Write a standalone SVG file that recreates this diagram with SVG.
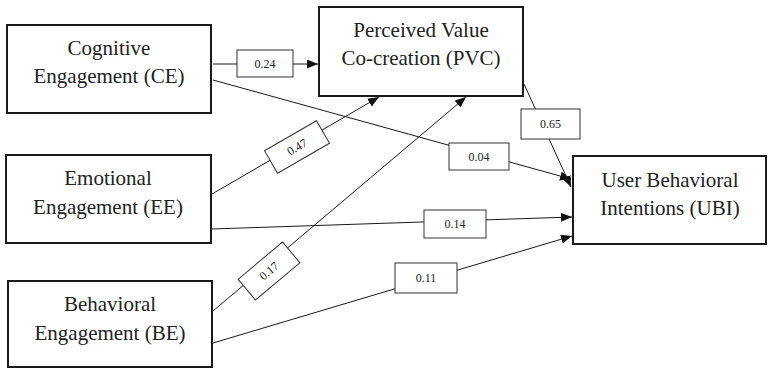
<svg xmlns="http://www.w3.org/2000/svg" width="770" height="369" viewBox="0 0 770 369">
<style>
.node rect{fill:#fff;stroke:#1a1a1a;stroke-width:2}
.node text{font-size:21px;fill:#222;text-anchor:middle}
.conn line{stroke:#1a1a1a;stroke-width:1}
.lbl rect{fill:#fff;stroke:#333;stroke-width:1}
.lbl text{font-size:12px;fill:#222;text-anchor:middle;dominant-baseline:central}
</style>
<defs>
<marker id="arr" markerUnits="userSpaceOnUse" markerWidth="12" markerHeight="10" refX="11" refY="4.5" orient="auto">
<path d="M0,0 L11,4.5 L0,9 z" fill="#111"/>
</marker>
</defs>
<rect width="770" height="369" fill="#fff"/>
<g id="connectors" class="conn">
<line x1="213" y1="64" x2="318" y2="64" marker-end="url(#arr)"/>
<line x1="213" y1="80" x2="571" y2="179" marker-end="url(#arr)"/>
<line x1="212" y1="194" x2="379" y2="97" marker-end="url(#arr)"/>
<line x1="213" y1="311" x2="466" y2="97" marker-end="url(#arr)"/>
<line x1="212" y1="229" x2="572" y2="217" marker-end="url(#arr)"/>
<line x1="213" y1="343" x2="572" y2="236" marker-end="url(#arr)"/>
<line x1="524" y1="84" x2="571" y2="187" marker-end="url(#arr)"/>
</g>
<g font-family="Liberation Serif, Times New Roman, serif">
<g id="labels" class="lbl">
<g id="l024"><rect x="237" y="50" width="56" height="27"/><text x="265" y="63.5">0.24</text></g>
<g id="l004"><rect x="449" y="143" width="60" height="27"/><text x="479" y="156.5">0.04</text></g>
<g id="l014"><rect x="424" y="210" width="62" height="28"/><text x="455" y="224">0.14</text></g>
<g id="l011"><rect x="395" y="263" width="62" height="30"/><text x="426" y="278">0.11</text></g>
<g id="l065"><rect x="521" y="109" width="59" height="30"/><text x="550.5" y="124">0.65</text></g>
<g id="l047" transform="translate(297,147) rotate(-30)"><rect x="-30" y="-13" width="60" height="26"/><text x="0" y="0">0.47</text></g>
<g id="l017" transform="translate(269,271) rotate(-40)"><rect x="-29" y="-13.5" width="58" height="27"/><text x="0" y="0">0.17</text></g>
</g>
<g id="CE" class="node"><rect x="7" y="25" width="204" height="88"/><text x="109" y="55">Cognitive</text><text x="109" y="83">Engagement (CE)</text></g>
<g id="PVC" class="node"><rect x="319" y="7" width="204" height="89"/><text x="421" y="37">Perceived Value</text><text x="421" y="65">Co-creation (PVC)</text></g>
<g id="UBI" class="node"><rect x="573" y="156" width="193" height="88"/><text x="670" y="187">User Behavioral</text><text x="670" y="215">Intentions (UBI)</text></g>
<g id="EE" class="node"><rect x="6" y="155" width="205" height="88"/><text x="108" y="185">Emotional</text><text x="108" y="214">Engagement (EE)</text></g>
<g id="BE" class="node"><rect x="8" y="281" width="204" height="86"/><text x="110" y="311">Behavioral</text><text x="110" y="340">Engagement (BE)</text></g>
</g>
</svg>
